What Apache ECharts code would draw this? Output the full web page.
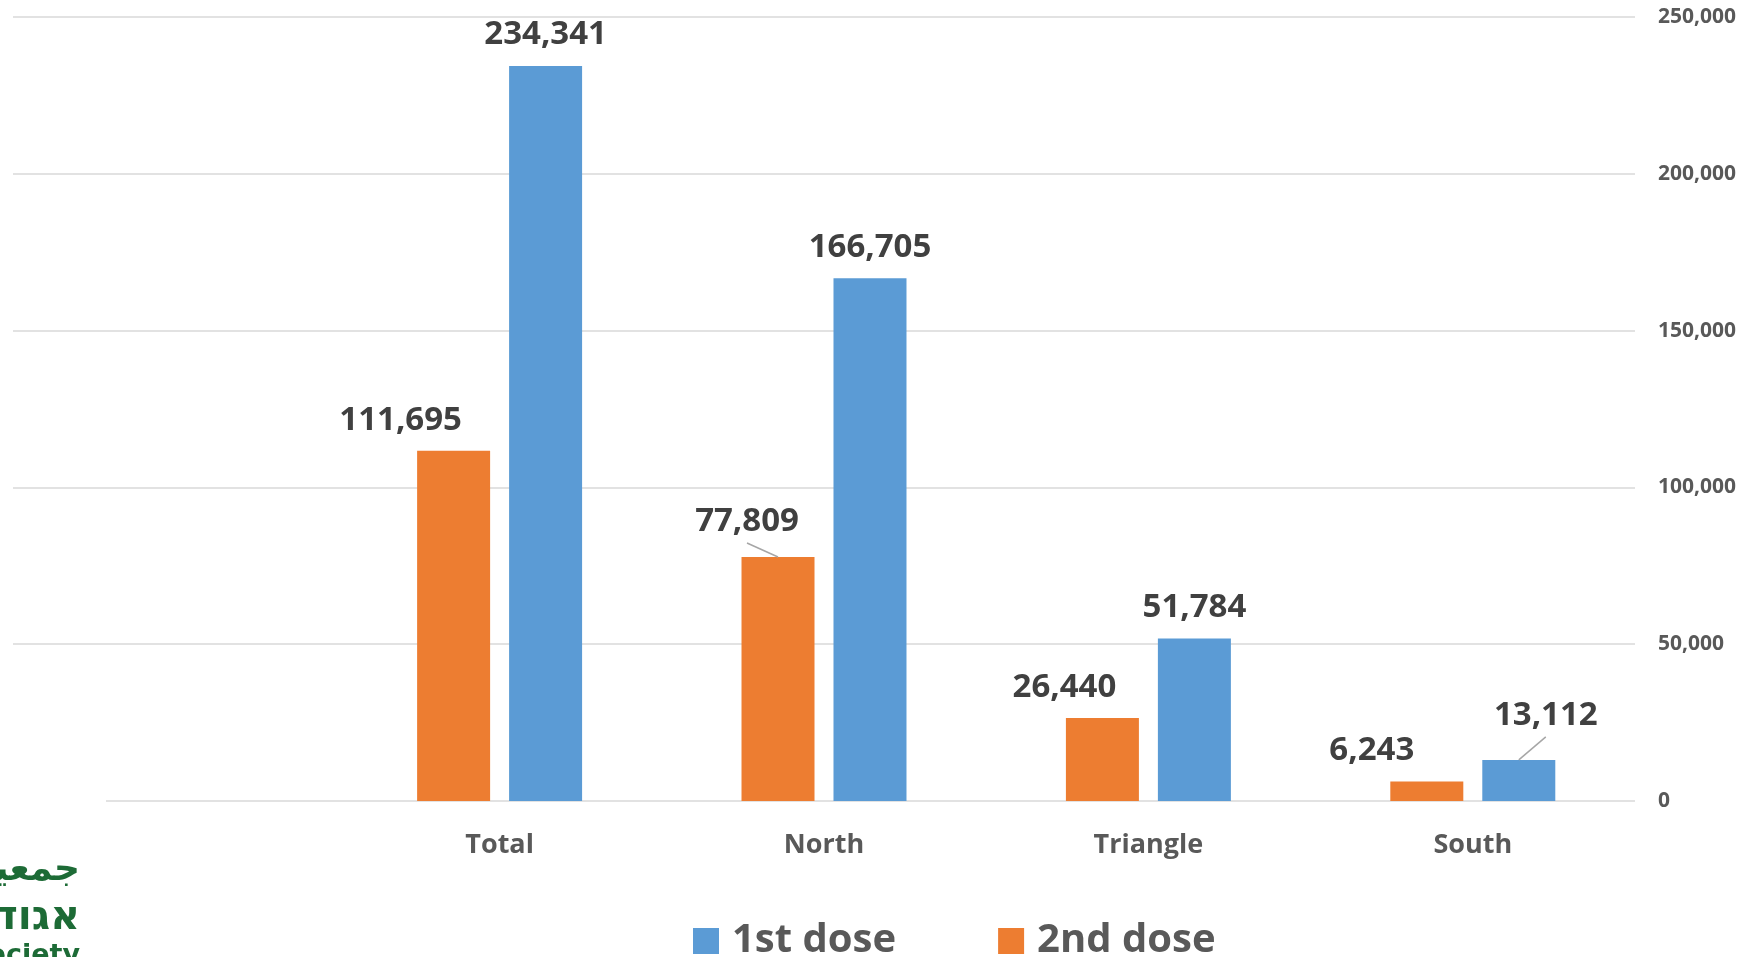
<!DOCTYPE html>
<html>
<head>
<meta charset="utf-8">
<script src="https://cdn.jsdelivr.net/npm/echarts@6/dist/echarts.min.js"></script>
<style>
  html, body { margin: 0; padding: 0; background: #ffffff; }
  #chart { width: 1747px; height: 957px; }
</style>
</head>
<body>
<div id="chart"></div>
<script>
// ---- data ----
const categories = ['', 'Total', 'North', 'Triangle', 'South'];
const firstDose  = [null, 234341, 166705, 51784, 13112];
const secondDose = [null, 111695, 77809, 26440, 6243];
const seriesNames = ['1st dose', '2nd dose'];
const yMin = 0, yMax = 250000, yStep = 50000;

// ---- label placement (style, not data) ----
const secondShift = [[0, 0], [-53, 0], [-31, -5], [-38, 0], [-55, 0]];
const firstShift  = [[0, 0], [0, -1], [0, 0], [0, -1], [27, -14]];
const secondLeader = [false, false, true, false, false];
const firstLeader  = [false, false, false, false, true];

const BLUE = '#5B9BD5', ORANGE = '#ED7D31';
const fmt = v => (v == null ? '' : Number(v).toLocaleString('en-US'));
const LABEL_DIST = 14;

const chart = echarts.init(document.getElementById('chart'), null, { renderer: 'canvas' });

const labelCfg = {
  show: true,
  position: 'top',
  distance: LABEL_DIST,
  fontFamily: 'Open Sans',
  fontWeight: 'bold',
  fontSize: 33,
  lineHeight: 33,
  color: '#404040',
  formatter: p => fmt(p.value)
};

const option = {
  animation: false,
  backgroundColor: '#ffffff',
  textStyle: { fontFamily: 'Open Sans' },
  grid: { left: 13, right: 112, top: 17, bottom: 156, containLabel: false, outerBoundsMode: 'none' },
  legend: {
    data: seriesNames,
    left: 693,
    top: 921,
    padding: 0,
    orient: 'horizontal',
    itemWidth: 26,
    itemHeight: 26,
    itemGap: 102,
    icon: 'rect',
    textStyle: {
      fontFamily: 'Open Sans', fontWeight: 'bold', fontSize: 40, lineHeight: 40,
      color: '#595959', padding: [0, 0, 0, 8]
    }
  },
  xAxis: {
    type: 'category',
    data: categories,
    axisLine: { show: false },
    axisTick: { show: false },
    axisLabel: {
      margin: 31,
      fontFamily: 'Open Sans', fontWeight: 'bold', fontSize: 27, lineHeight: 27,
      color: '#595959'
    },
    splitLine: { show: false }
  },
  yAxis: {
    type: 'value',
    position: 'right',
    min: yMin, max: yMax, interval: yStep,
    axisLine: { show: false },
    axisTick: { show: false },
    axisLabel: {
      margin: 23,
      align: 'left',
      fontFamily: 'Open Sans', fontWeight: 'bold', fontSize: 21,
      color: '#595959',
      formatter: v => fmt(v)
    },
    splitLine: { show: true, lineStyle: { color: '#d9d9d9', width: 1.5 } }
  },
  series: [
    {
      name: seriesNames[1], type: 'bar', data: secondDose,
      barWidth: 73, barGap: '26%',
      itemStyle: { color: ORANGE },
      label: labelCfg
    },
    {
      name: seriesNames[0], type: 'bar', data: firstDose,
      barWidth: 73, barGap: '26%',
      itemStyle: { color: BLUE },
      label: labelCfg
    }
  ],
  labelLayout: function (p) {
    const sh = p.seriesIndex === 0 ? secondShift : firstShift;
    const s = sh[p.dataIndex] || [0, 0];
    return { dx: s[0], dy: s[1] };
  },
  graphic: [
    {
      type: 'group', id: 'logo', silent: true, z: 100, zlevel: 0,
      children: [
        { type: 'rect', z: 100, shape: { x: 0, y: 790, width: 106, height: 167 }, style: { fill: '#ffffff' } },
        { type: 'text', z: 101, style: { text: 'جمعية الجليل', x: 80, y: 871, fill: '#1d6b36', font: 'bold 36px "DejaVu Sans"', align: 'right', verticalAlign: 'middle', textAlign: 'right', textVerticalAlign: 'middle' } },
        { type: 'text', z: 101, style: { text: 'אגודת הגליל', x: 80, y: 918, fill: '#1d6b36', font: 'bold 41px "DejaVu Sans"', align: 'right', verticalAlign: 'middle', textAlign: 'right', textVerticalAlign: 'middle' } },
        { type: 'text', z: 101, style: { text: 'Galilee Society', x: 80, y: 956, fill: '#1d6b36', font: 'bold 27px "DejaVu Sans"', align: 'right', verticalAlign: 'middle', textAlign: 'right', textVerticalAlign: 'middle' } }
      ]
    }
  ]
};

chart.setOption(option);

// ---- leader lines, computed from the library's bar layout ----
const LABEL_RISE = 33;  // bar top -> label digit centre
const LEADER_GAP = 24;  // label digit centre -> leader start
const leaders = [];
[[0, secondLeader, secondShift], [1, firstLeader, firstShift]].forEach(([si, flags, shifts]) => {
  const data = chart.getModel().getSeriesByIndex(si).getData();
  flags.forEach((on, i) => {
    if (!on) return;
    const lay = data.getItemLayout(i);
    if (!lay) return;
    const cx = lay.x + lay.width / 2;
    const top = Math.min(lay.y, lay.y + lay.height);
    const lx = cx + shifts[i][0];
    const ly = top - LABEL_RISE + shifts[i][1] + LEADER_GAP;
    leaders.push({
      type: 'line', id: 'leader_' + si + '_' + i, silent: true, z: 50,
      shape: { x1: lx, y1: ly, x2: cx, y2: top },
      style: { stroke: '#a6a6a6', lineWidth: 1.5 }
    });
  });
});
chart.setOption({ graphic: leaders });
</script>
</body>
</html>
